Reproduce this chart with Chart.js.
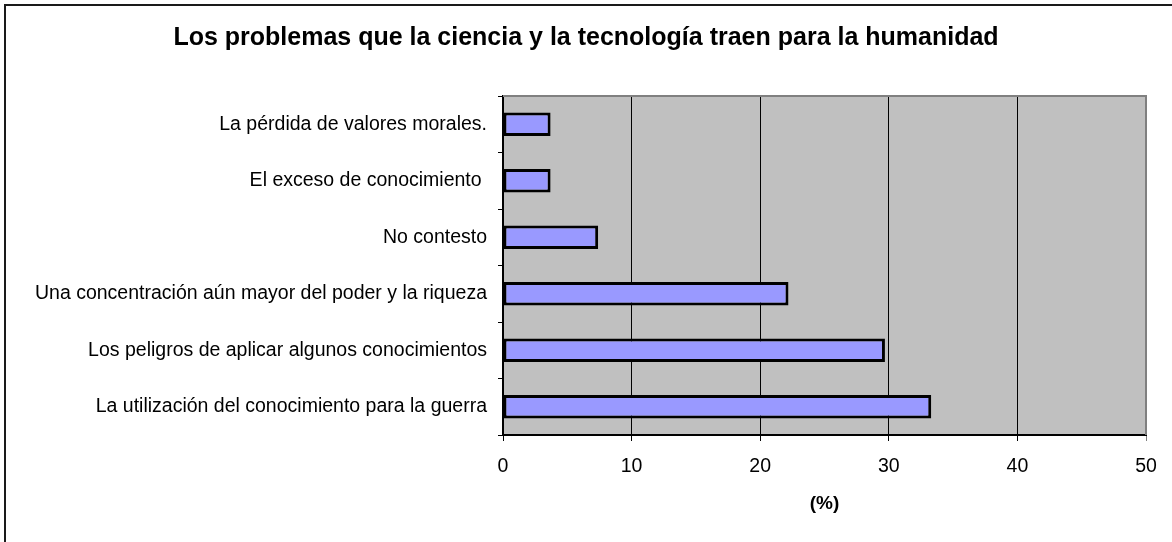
<!DOCTYPE html>
<html lang="es">
<head>
<meta charset="utf-8">
<title>Los problemas que la ciencia y la tecnología traen para la humanidad</title>
<script src="https://cdn.jsdelivr.net/npm/chart.js@4/dist/chart.umd.min.js"></script>
<style>
    html, body {
        margin: 0;
        padding: 0;
        background: #ffffff;
        overflow: hidden;
    }
    #frame {
        position: absolute;
        left: 4px;
        top: 4px;
        width: 1300px;
        height: 700px;
        border: 2px solid #1a1a1a;
    }
    #wrap {
        position: absolute;
        left: 0;
        top: 0;
        width: 1172px;
        height: 542px;
    }
</style>
</head>
<body>
<div id="frame"></div>
<div id="wrap"><canvas id="problemsChart" width="1172" height="542"></canvas></div>
<script>
const chartTitle = "Los problemas que la ciencia y la tecnología traen para la humanidad";
const categories = [
    "La pérdida de valores morales.",
    "El exceso de conocimiento ",
    "No contesto",
    "Una concentración aún mayor del poder y la riqueza",
    "Los peligros de aplicar algunos conocimientos",
    "La utilización del conocimiento para la guerra"
];
const percentValues = [3.7, 3.7, 7.4, 22.2, 29.7, 33.3];
const xTicks = [0, 10, 20, 30, 40, 50];
const xAxisTitle = "(%)";

const fontFamily = "'Liberation Sans', Arial, Helvetica, sans-serif";

// grey plot area with the darker top/right edge, like the old spreadsheet chart
const plotBackground = {
    id: "plotBackground",
    beforeDraw(chart) {
        const { ctx, chartArea } = chart;
        ctx.save();
        ctx.fillStyle = "#c0c0c0";
        ctx.fillRect(chartArea.left, chartArea.top, chartArea.width, chartArea.height);
        ctx.restore();
    },
    beforeDatasetsDraw(chart) {
        const { ctx, chartArea } = chart;
        ctx.save();
        ctx.strokeStyle = "#808080";
        ctx.lineWidth = 2;
        ctx.beginPath();
        ctx.moveTo(chartArea.left, chartArea.top);
        ctx.lineTo(chartArea.right, chartArea.top);
        ctx.lineTo(chartArea.right, chartArea.bottom);
        ctx.stroke();
        ctx.restore();
    }
};

const problemsChart = new Chart(document.getElementById("problemsChart"), {
    type: "bar",
    data: {
        labels: categories,
        datasets: [
            {
                data: percentValues,
                backgroundColor: "#9999ff",
                borderColor: "#000000",
                borderWidth: 3,
                borderSkipped: false,
                categoryPercentage: 1,
                barPercentage: 0.42
            }
        ]
    },
    options: {
        indexAxis: "y",
        responsive: false,
        animation: false,
        layout: {
            padding: { left: 26, right: 26, top: 0, bottom: 0 }
        },
        scales: {
            x: {
                min: 0,
                max: 50,
                afterBuildTicks(scale) {
                    scale.ticks = xTicks.map((v) => ({ value: v }));
                },
                afterFit(scale) {
                    scale.height = 107;
                },
                ticks: {
                    color: "#000000",
                    padding: 14,
                    font: { family: fontFamily, size: 19.5 }
                },
                grid: {
                    color: (ctx) => (ctx.tick && ctx.tick.value === 50 ? "#808080" : "#000000"),
                    lineWidth: 1,
                    tickLength: 6
                },
                border: {
                    color: "#000000",
                    width: 2
                },
                title: {
                    display: true,
                    text: xAxisTitle,
                    color: "#000000",
                    padding: { top: 0, bottom: 27 },
                    font: { family: fontFamily, size: 19, weight: "bold" }
                }
            },
            y: {
                afterFit(scale) {
                    scale.width = 477;
                },
                ticks: {
                    color: "#000000",
                    padding: 11,
                    font: { family: fontFamily, size: 19.5 }
                },
                grid: {
                    drawOnChartArea: false,
                    color: "#000000",
                    tickLength: 5
                },
                border: {
                    color: "#000000",
                    width: 2
                }
            }
        },
        plugins: {
            legend: { display: false },
            tooltip: { enabled: false },
            title: {
                display: true,
                text: chartTitle,
                color: "#000000",
                padding: { top: 23, bottom: 43 },
                font: { family: fontFamily, size: 25, weight: "bold" }
            }
        }
    },
    plugins: [plotBackground]
});
</script>
</body>
</html>
